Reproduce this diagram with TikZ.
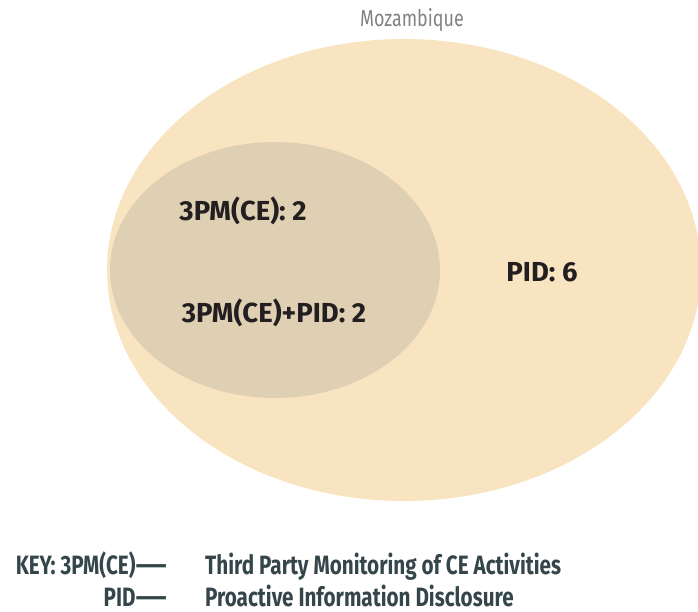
\documentclass[tikz,border=0pt]{standalone}
\usepackage{fontspec}
\setmainfont{Fira Sans}
\newfontfamily\narrowfont[FakeStretch=0.78]{Fira Sans}
\usetikzlibrary{positioning}
\definecolor{outerfill}{HTML}{F9E4C1}
\definecolor{innerfill}{HTML}{DFCFB3}
\definecolor{labeltext}{HTML}{231F20}
\definecolor{titlegray}{HTML}{808285}
\definecolor{keytext}{HTML}{35464A}
\newcommand{\keydash}{\scalebox{1.9}[1]{—}}

\begin{document}
\begin{tikzpicture}[x=1pt,y=-1pt,
    count/.style={font=\fontsize{27.5}{30}\selectfont\bfseries, text=labeltext, inner sep=0pt},
    keyterm/.style={font=\narrowfont\fontsize{26.5}{30}\selectfont\bfseries, text=keytext, inner sep=0pt, anchor=base east},
    keydef/.style={font=\narrowfont\fontsize{26.5}{30}\selectfont\bfseries, text=keytext, inner sep=0pt, anchor=base west}]
    \useasboundingbox (0,0) rectangle (698,612);

    % the two sets
    \fill[outerfill] (404,270) ellipse [x radius=297, y radius=231];
    \fill[innerfill] (275,270) ellipse [x radius=165, y radius=128];

    \node[font=\narrowfont\fontsize{23}{26}\selectfont, text=titlegray, inner sep=0pt] (country) at (412,20) {Mozambique};

    \node[count] (cpm) at (243,211) {3PM(CE): 2};
    \node[count] (both) at (274,313) {3PM(CE)+PID: 2};
    \node[count] (pid) at (542,272) {PID: 6};

    % key
    \node[keyterm] (keyone) at (167,574) {KEY: 3PM(CE)\keydash};
    \node[keydef] (defone) at (205,574) {Third Party Monitoring of CE Activities};
    \node[keyterm] (keytwo) at (167,606) {PID\keydash};
    \node[keydef] (deftwo) at (205,606) {Proactive Information Disclosure};
\end{tikzpicture}
\end{document}
